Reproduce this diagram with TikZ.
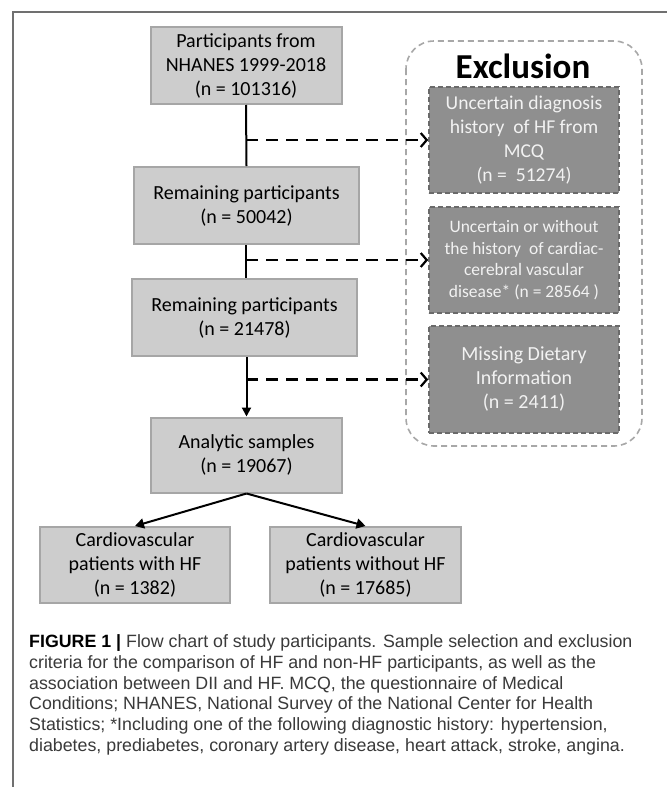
\documentclass[tikz,border=0pt]{standalone}
\usepackage{fontspec}
\setmainfont{Carlito}
\newfontfamily\capfont{Liberation Sans}
\usetikzlibrary{arrows.meta,calc}
\definecolor{boxfill}{HTML}{CDCDCD}
\definecolor{boxdraw}{HTML}{A6A6A6}
\definecolor{exfill}{HTML}{8F8F8F}
\definecolor{exdraw}{HTML}{6A6A6A}
\definecolor{outdraw}{HTML}{A8A8A8}
\definecolor{extext}{HTML}{F2F2F2}
\definecolor{captext}{HTML}{3A3A3A}
\definecolor{framecol}{HTML}{707070}
\tikzset{
  mainbox/.style={draw=boxdraw, fill=boxfill, line width=2pt, align=center,
    inner sep=0pt, font=\fontsize{20}{24}\selectfont},
  exbox/.style={draw=exdraw, fill=exfill, line width=1.6pt, dash pattern=on 5pt off 3pt,
    align=center, inner sep=0pt, text=extext, minimum width=190pt, minimum height=106pt,
    font=\fontsize{19.6}{24}\selectfont},
  flow/.style={line width=2pt, black},
  dashflow/.style={line width=2.5pt, black, dash pattern=on 12pt off 8pt,
    -{Straight Barb[length=6pt,width=14pt,line width=2.2pt]}},
  captline/.style={anchor=base west, inner sep=0pt, text=captext,
    font=\capfont\fontsize{17.8}{20}\selectfont}
}
\begin{document}
\begin{tikzpicture}[x=1pt,y=-1pt]
\useasboundingbox (0,0) rectangle (667,787);
\fill[white] (0,0) rectangle (667,787);
\draw[framecol, line width=1.2pt] (13,787) -- (13,12) -- (667,12);

% main flow boxes
\node[mainbox, minimum width=191pt, minimum height=77pt] (b1) at (246,65.5)
  {Participants from\\NHANES 1999-2018\\(n = 101316)};
\node[mainbox, minimum width=225pt, minimum height=77pt] (b2) at (246.5,205.5)
  {Remaining participants\\(n = 50042)};
\node[mainbox, minimum width=225pt, minimum height=77pt] (b3) at (244.5,317.5)
  {Remaining participants\\(n = 21478)};
\node[mainbox, minimum width=191pt, minimum height=75pt] (b4) at (246.5,455)
  {Analytic samples\\(n = 19067)};
\node[mainbox, minimum width=190pt, minimum height=76pt] (b5) at (135,565)
  {Cardiovascular\\patients with HF\\(n = 1382)};
\node[mainbox, minimum width=191pt, minimum height=76pt] (b6) at (365.5,565)
  {Cardiovascular\\patients without HF\\(n = 17685)};

% exclusion group
\draw[outdraw, line width=1.6pt, dash pattern=on 6pt off 4pt, rounded corners=28pt]
  (406,41) rectangle (642,446);
\node[anchor=base, inner sep=0pt, font=\bfseries\fontsize{35}{35}\selectfont] (title) at (523,78) {Exclusion};
\node[exbox] (e1) at (524,140)
  {Uncertain diagnosis\\history\ \ of HF from\\MCQ\\(n =\ \ 51274)};
\node[exbox, font=\fontsize{17.5}{21.5}\selectfont] (e2) at (524,260)
  {Uncertain or without\\the history\ \ of cardiac-\\cerebral vascular\\disease* (n = 28564 )};
\node[exbox, minimum height=107pt, font=\fontsize{20}{24}\selectfont] (e3) at (524,379.5)
  {Missing Dietary\\Information\\(n = 2411)};

% connectors
\draw[flow] (b1.south) -- (b2.north);
\draw[flow] (b2.south -| b1.south) -- (b3.north -| b1.south);
\draw[flow, -{Triangle[length=9pt,width=9pt]}] (b3.south -| b4.north) -- (b4.north);
\coordinate (j1) at (b1.south |- e1.west);
\coordinate (j2) at (b1.south |- e2.west);
\coordinate (j3) at (b1.south |- e3.west);
\draw[dashflow] (j1) -- (e1.west);
\draw[dashflow] (j2) -- (e2.west);
\draw[dashflow] (j3) -- (e3.west);
\draw[flow, -{Triangle[length=9pt,width=10pt]}] (b4.south) -- (b5.north);
\draw[flow, -{Triangle[length=9pt,width=10pt]}] (b4.south) -- (b6.north);

% caption
\node[captline] (c1) at (29,647) {\textcolor{black}{\bfseries FIGURE 1 |} Flow chart of study participants. Sample selection and exclusion};
\node[captline] (c2) at (29,668) {criteria for the comparison of HF and non-HF participants, as well as the};
\node[captline] (c3) at (29,689) {association between DII and HF. MCQ, the questionnaire of Medical};
\node[captline] (c4) at (29,709) {Conditions; NHANES, National Survey of the National Center for Health};
\node[captline] (c5) at (29,730) {Statistics; *Including one of the following diagnostic history: hypertension,};
\node[captline] (c6) at (29,751) {diabetes, prediabetes, coronary artery disease, heart attack, stroke, angina.};
\end{tikzpicture}
\end{document}
